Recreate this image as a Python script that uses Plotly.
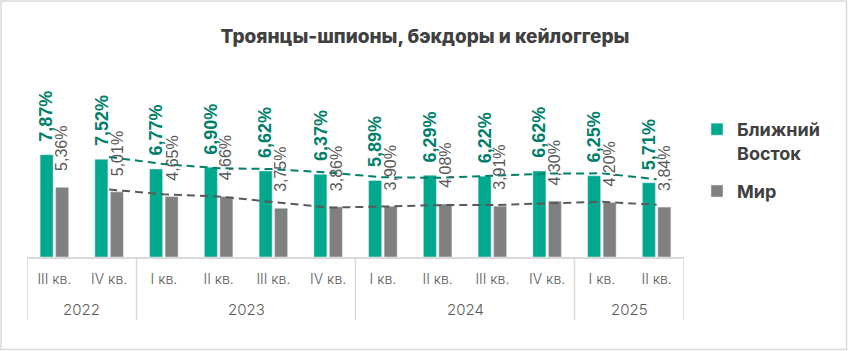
import plotly.graph_objects as go
import numpy as np

# ---------------- data ----------------
years = ["2022", "2022", "2023", "2023", "2023", "2023",
         "2024", "2024", "2024", "2024", "2025", "2025"]
quarters = ["III кв.", "IV кв.", "I кв.", "II кв.", "III кв.", "IV кв.",
            "I кв.", "II кв.", "III кв.", "IV кв.", "I кв.", "II кв."]
middle_east = [7.87, 7.52, 6.77, 6.90, 6.62, 6.37, 5.89, 6.29, 6.22, 6.62, 6.25, 5.71]
world = [5.36, 5.01, 4.65, 4.66, 3.75, 3.86, 3.90, 4.08, 3.91, 4.30, 4.20, 3.84]
series_names = ["Ближний<br>Восток", "Мир"]
title_text = "Троянцы-шпионы, бэкдоры и кейлоггеры"

# ---------------- style ----------------
W, H = 848, 351
L, R, T, B = 27, 164, 60, 94
PW, PH = W - L - R, H - T - B
YMAX = PH / 13.0

GREEN = "#00A88E"
GREEN_DARK = "#00806A"
GREY = "#808080"
GREY_DARK = "#595959"
TEXT = "#404040"
LINE = "#D9D9D9"

BARGAP = 0.434
BARGROUPGAP = 0.16
SLOT = (1 - BARGAP) / 2


def px_x(px):
    return (px - L) / PW


def px_y(py):
    return (H - B - py) / PH


idx = list(range(len(quarters)))


def moving_avg(vals, n=2):
    a = np.asarray(vals, dtype=float)
    return np.convolve(a, np.ones(n) / n, mode="valid")


fig = go.Figure()

series = [
    (middle_east, series_names[0], GREEN, GREEN_DARK),
    (world, series_names[1], GREY, GREY_DARK),
]

for k, (vals, name, col, dark) in enumerate(series):
    fig.add_trace(go.Bar(
        x=idx, y=vals, name=name, marker_color=col,
        legendgroup=f"g{k}", hoverinfo="skip",
    ))

for k, (vals, name, col, dark) in enumerate(series):
    ma = moving_avg(vals, 2)
    fig.add_trace(go.Scatter(
        x=idx[1:], y=ma, mode="lines",
        line=dict(color=dark, width=2, dash="8px,5px"),
        showlegend=False, hoverinfo="skip",
    ))

annotations = []
label_fonts = [
    dict(family="Liberation Sans", size=18, color=GREEN_DARK, weight="bold"),
    dict(family="Liberation Sans", size=16, color=GREY_DARK),
]
label_shift = [11, 14]
offsets = [-SLOT / 2, SLOT / 2]
for k, (vals, name, col, dark) in enumerate(series):
    for i, v in zip(idx, vals):
        annotations.append(dict(
            x=i + offsets[k], y=v, xref="x", yref="y",
            text=f"{v:.2f}%".replace(".", ","),
            textangle=-90, showarrow=False,
            xanchor="center", yanchor="bottom", yshift=label_shift[k],
            font=label_fonts[k],
        ))

# year labels and dividers
groups = []
for i, yv in enumerate(years):
    if not groups or groups[-1][0] != yv:
        groups.append([yv, i, i])
    else:
        groups[-1][2] = i

shapes = []
div_bottom = px_y(320)
for yv, first, last in groups:
    annotations.append(dict(
        x=(first + last) / 2, y=px_y(309), xref="x", yref="paper",
        text=yv, showarrow=False, xanchor="center", yanchor="middle",
        font=dict(family="Inter", size=15, color=GREY_DARK, weight=300),
    ))
    shapes.append(dict(type="line", xref="x", yref="paper",
                       x0=first - 0.5, x1=first - 0.5, y0=0, y1=div_bottom,
                       line=dict(color=LINE, width=1.5)))
shapes.append(dict(type="line", xref="x", yref="paper",
                   x0=groups[-1][2] + 0.5, x1=groups[-1][2] + 0.5, y0=0, y1=div_bottom,
                   line=dict(color=LINE, width=1.5)))

# outer border
shapes.append(dict(type="rect", xref="paper", yref="paper",
                   x0=px_x(1), x1=px_x(846.5), y0=px_y(349.5), y1=px_y(1),
                   line=dict(color=LINE, width=1.5), layer="below"))

fig.update_layout(
    width=W, height=H,
    margin=dict(l=L, r=R, t=T, b=B),
    paper_bgcolor="white", plot_bgcolor="white",
    barmode="group", bargap=BARGAP, bargroupgap=BARGROUPGAP,
    title=dict(text=title_text, x=425 / W, xanchor="center",
               y=1 - 36 / H, yanchor="middle", yref="container",
               font=dict(family="Inter", size=19, color=TEXT, weight=800)),
    xaxis=dict(range=[-0.5, len(idx) - 0.5], tickmode="array", tickvals=idx,
               ticktext=quarters, showgrid=False, zeroline=False,
               showline=True, linecolor=LINE, linewidth=1.5, ticks="",
               ticklabelstandoff=8,
               tickfont=dict(family="Inter", size=14, color=GREY_DARK, weight=300),
               fixedrange=True),
    yaxis=dict(range=[0, YMAX], visible=False, fixedrange=True),
    legend=dict(x=px_x(697), y=px_y(111), xanchor="left", yanchor="top",
                font=dict(family="Inter", size=18, color=TEXT, weight="bold"),
                valign="top", tracegroupgap=12, traceorder="grouped",
                bgcolor="rgba(0,0,0,0)"),
    annotations=annotations,
    shapes=shapes,
    showlegend=True,
)

fig.write_html("out.html")
